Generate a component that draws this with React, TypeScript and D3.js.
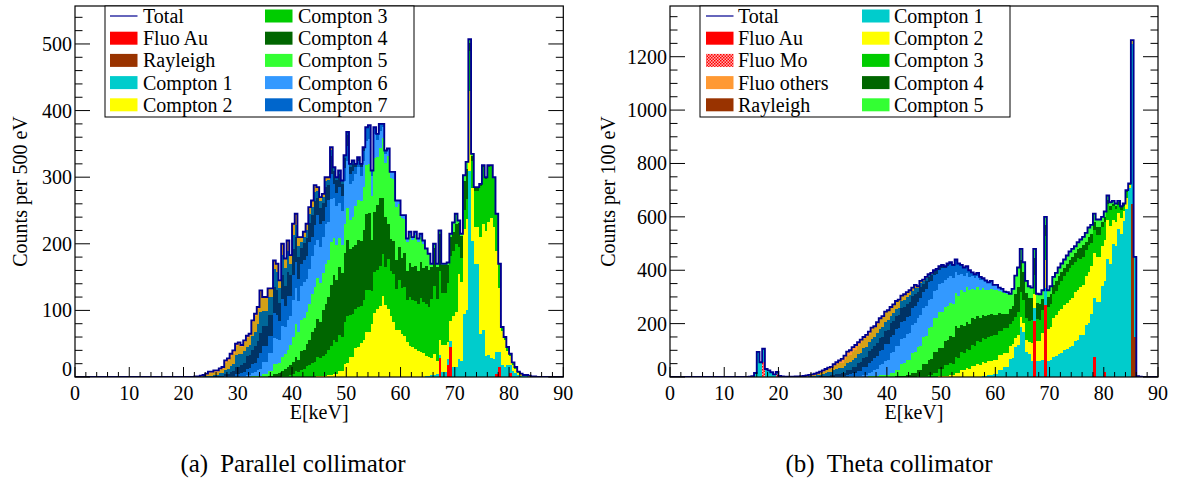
import React from "react";
import * as d3 from "d3";

type Seg = { from: number; counts: number[] };
type Line = [number, number][];

const BIN = 0.5;
const FONT = "Liberation Serif, Times New Roman, serif";

// ---------------- (a) Parallel collimator ----------------
const parallelTotalFrom = 22;
const parallelTotal = [
  1, 1, 2, 3, 5, 8, 8, 10, 10, 13,
  15, 25, 28, 35, 40, 50, 52, 48, 55, 62,
  65, 85, 95, 105, 130, 120, 120, 133, 133, 175,
  170, 145, 200, 178, 205, 183, 230, 245, 210, 210,
  218, 230, 255, 265, 288, 285, 270, 275, 300, 300,
  345, 315, 300, 310, 295, 333, 368, 320, 325, 320,
  330, 320, 345, 375, 378, 310, 375, 365, 380, 380,
  340, 343, 308, 308, 265, 265, 243, 243, 208, 218,
  210, 218, 208, 215, 205, 193, 185, 170, 200, 170,
  220, 170, 170, 172, 215, 232, 245, 235, 215, 303,
  323, 507, 335, 285, 285, 290, 318, 300, 318, 318,
  300, 245, 170, 75, 60, 45, 35, 22, 15, 8,
  5, 3, 3, 2, 1, 1,
];
const parallelFluoAu: Line = [[67, 28], [68.5, 18], [69, 45], [77.5, 4], [78, 15], [80, 6]];
const parallelRayleigh: Line = [];
const parallelCompton1: Seg[] = [{ from: 65, counts: [2, 3, 5, 8, 10, 15, 30, 100, 310, 170, 70, 32, 25, 18, 15, 10, 5, 2, 1] }];
const parallelCompton2: Seg[] = [{ from: 45, counts: [1, 2, 3, 5, 10, 20, 30, 45, 55, 65, 95, 105, 115, 95, 75, 65, 55, 45, 40, 35, 28, 27, 20, 45, 30, 80, 145, 135, 120, 55, 160, 195, 185, 80, 40, 12, 5, 2, 1] }];
const parallelCompton3: Seg[] = [{ from: 38, counts: [1, 2, 4, 8, 12, 18, 22, 28, 33, 40, 50, 55, 65, 65, 60, 60, 60, 60, 60, 60, 70, 65, 70, 65, 70, 70, 75, 75, 90, 95, 85, 100, 100, 45, 30, 60, 55, 85, 80, 70, 30, 5, 3, 2, 1, 1] }];
const parallelCompton4: Seg[] = [{ from: 36, counts: [2, 4, 8, 12, 16, 20, 30, 38, 50, 55, 75, 85, 95, 105, 105, 100, 100, 105, 110, 90, 100, 80, 50, 45, 45, 45, 50, 50, 50, 55, 50, 50, 45, 30, 30, 40, 45, 12, 5, 3, 3] }];
const parallelCompton5: Seg[] = [{ from: 33, counts: [1, 2, 5, 8, 14, 20, 25, 35, 45, 50, 55, 60, 60, 60, 60, 55, 45, 45, 45, 60, 65, 70, 80, 75, 85, 95, 85, 60, 45, 40, 45, 35, 25, 5, 5, 2, 5, 15, 5, 10, 5] }];
const parallelCompton6: Seg[] = [{ from: 31, counts: [1, 3, 6, 10, 18, 30, 35, 45, 45, 50, 50, 55, 55, 60, 55, 60, 60, 60, 55, 65, 55, 50, 40, 35, 35, 25, 15, 10, 10, 5, 5, 5, 5, 5] }];
const parallelCompton7: Seg[] = [{ from: 28, counts: [1, 2, 4, 6, 10, 14, 22, 26, 30, 35, 40, 35, 35, 35, 35, 40, 30, 35, 25, 35, 20, 25, 20, 15, 10, 15, 20, 10, 10, 5] }];
const parallelCompton8: Seg[] = [{ from: 26, counts: [1, 2, 4, 7, 11, 14, 20, 25, 30, 30, 35, 35, 35, 35, 35, 35, 25, 30, 35, 25, 30, 25, 20, 20, 15, 10, 5, 5] }];
const parallelCompton9: Seg[] = [{ from: 24, counts: [2, 2, 3, 5, 8, 10, 18, 18, 15, 22, 30, 25, 30, 25, 30, 30, 20, 17, 10, 14, 13, 10, 10, 8, 5, 5, 5, 5] }];
const parallelCompton10: Seg[] = [{ from: 24, counts: [3, 4, 6, 7, 13, 16, 14, 13, 14, 24, 28, 19, 15, 12, 16, 16, 15, 15, 8, 10, 10, 6, 5, 4] }];
const parallelCompton11: Seg[] = [{ from: 24, counts: [2, 3, 3, 3, 4, 5, 3, 3, 3, 3, 3, 2] }];

// ---------------- (b) Theta collimator ----------------
const thetaTotalFrom = 14;
const thetaTotal = [
  0, 1, 3, 15, 94, 55, 106, 30, 25, 18,
  10, 19, 4, 2, 1, 1, 1, 1, 2, 2,
  3, 4, 6, 8, 10, 12, 16, 20, 25, 30,
  35, 38, 48, 55, 62, 68, 80, 95, 100, 112,
  120, 130, 140, 150, 158, 170, 185, 190, 205, 220,
  228, 245, 250, 262, 272, 285, 290, 305, 310, 318,
  325, 335, 345, 340, 360, 365, 375, 385, 390, 400,
  405, 415, 420, 415, 425, 430, 420, 440, 425, 420,
  410, 415, 400, 392, 385, 390, 375, 370, 362, 355,
  360, 345, 345, 335, 330, 320, 318, 312, 330, 380,
  410, 480, 430, 360, 340, 335, 480, 312, 310, 325,
  600, 325, 340, 375, 390, 410, 425, 440, 455, 470,
  480, 490, 505, 515, 525, 540, 560, 570, 612, 590,
  590, 600, 620, 680, 655, 660, 650, 660, 640, 650,
  700, 725, 1262, 450, 3, 1,
];
const thetaFluoAu: Line = [[67, 210], [69, 270], [78, 75], [80, 20]];
const thetaFluoMo: Line = [[17, 55], [19.5, 10]];
const thetaRayleigh: Line = [[85, 650], [85.5, 150]];
const thetaCompton1: Seg[] = [
  { from: 15, counts: [10, 70, 40, 20, 10, 3, 1] },
  { from: 58, counts: [2, 6, 12, 25, 37, 70, 130, 175, 100, 60, 60, 60, 62, 75, 87, 100, 112, 130, 150, 180, 212, 262, 362, 425, 500, 550, 620, 600, 3] },
];
const thetaCompton2: Seg[] = [{ from: 50, counts: [2, 4, 6, 15, 25, 31, 40, 44, 50, 52, 50, 55, 50, 55, 40, 37, 50, 65, 75, 100, 125, 150, 160, 165, 175, 175, 175, 170, 163, 160, 163, 140, 90, 60, 40, 10] }];
const thetaCompton3: Seg[] = [{ from: 45, counts: [1, 2, 4, 6, 15, 25, 40, 44, 55, 65, 69, 78, 81, 88, 88, 88, 88, 88, 85, 95, 88, 90, 85, 80, 85, 88, 90, 100, 110, 120, 110, 100, 90, 80, 75, 75, 60, 50, 30, 20, 5] }];
const thetaCompton4: Seg[] = [{ from: 42, counts: [2, 4, 6, 15, 25, 45, 56, 75, 75, 90, 100, 110, 100, 100, 100, 87, 82, 78, 75, 65, 50, 60, 100, 110, 100, 80, 60, 40, 37, 35, 35, 30, 30, 30, 40, 30, 30, 30, 20, 15, 10, 10, 5] }];
const thetaCompton5: Seg[] = [{ from: 36, counts: [1, 3, 5, 8, 6, 15, 25, 45, 56, 75, 87, 100, 113, 120, 125, 125, 125, 120, 125, 125, 110, 100, 95, 90, 87, 80, 75, 60, 80, 40, 50, 40, 35, 30, 28, 30, 30, 30, 30, 25, 30, 30, 30, 25, 20, 15, 10, 5, 3] }];
const thetaCompton6: Seg[] = [{ from: 33, counts: [2, 3, 5, 6, 15, 25, 40, 56, 75, 87, 90, 100, 105, 113, 110, 100, 100, 100, 100, 100, 75, 60, 50, 45, 38, 30, 25, 20, 12, 5, 3] }];
const thetaCompton7: Seg[] = [{ from: 29, counts: [1, 2, 4, 6, 8, 12, 20, 31, 40, 50, 55, 63, 63, 63, 63, 63, 62, 62, 62, 62, 55, 50, 45, 45, 40, 30, 25, 15, 10, 5, 3] }];
const thetaCompton8: Seg[] = [{ from: 27, counts: [1, 3, 5, 8, 10, 12, 18, 25, 35, 38, 45, 50, 50, 50, 50, 50, 50, 50, 45, 38, 30, 20, 15, 10, 8, 5, 3, 2] }];
const thetaCompton9: Seg[] = [{ from: 25, counts: [1, 3, 5, 10, 14, 20, 22, 25, 30, 32, 35, 37, 37, 37, 37, 37, 30, 25, 25, 25, 20, 15, 10, 6, 3, 2] }];
const thetaCompton10: Seg[] = [{ from: 23, counts: [1, 1, 2, 4, 6, 10, 12, 18, 20, 25, 30, 31, 35, 35, 35, 38, 38, 35, 30, 28, 20, 18, 12, 8, 5, 3] }];
const thetaCompton11: Seg[] = [{ from: 22, counts: [1, 1, 2, 2, 3, 4, 5, 6, 10, 12, 18, 18, 20, 15, 10, 8, 5, 4, 3, 2, 2] }];

// ---------------- colours ----------------
const C = {
  au: "#ff0000",
  ray: "#993300",
  others: "#ff9933",
  c1: "#00cccc",
  c2: "#ffff00",
  c3: "#00cc00",
  c4: "#006600",
  c5: "#33ff33",
  c6: "#3399ff",
  c7: "#0066cc",
  c8: "#003366",
  c9: "#006699",
  c10: "#d4a017",
  c11: "#ff9933",
  total: "#000090",
};

type LayerDef = { fill: string; line?: Line; cont?: Seg[] };

const parallelLayers: LayerDef[] = [
  { fill: C.au, line: parallelFluoAu },
  { fill: C.ray, line: parallelRayleigh },
  { fill: C.c1, cont: parallelCompton1 },
  { fill: C.c2, cont: parallelCompton2 },
  { fill: C.c3, cont: parallelCompton3 },
  { fill: C.c4, cont: parallelCompton4 },
  { fill: C.c5, cont: parallelCompton5 },
  { fill: C.c6, cont: parallelCompton6 },
  { fill: C.c7, cont: parallelCompton7 },
  { fill: C.c8, cont: parallelCompton8 },
  { fill: C.c9, cont: parallelCompton9 },
  { fill: C.c10, cont: parallelCompton10 },
  { fill: C.c11, cont: parallelCompton11 },
];

const thetaLayers: LayerDef[] = [
  { fill: C.au, line: thetaFluoAu },
  { fill: "url(#moPattern)", line: thetaFluoMo },
  { fill: C.ray, line: thetaRayleigh },
  { fill: C.c1, cont: thetaCompton1 },
  { fill: C.c2, cont: thetaCompton2 },
  { fill: C.c3, cont: thetaCompton3 },
  { fill: C.c4, cont: thetaCompton4 },
  { fill: C.c5, cont: thetaCompton5 },
  { fill: C.c6, cont: thetaCompton6 },
  { fill: C.c7, cont: thetaCompton7 },
  { fill: C.c8, cont: thetaCompton8 },
  { fill: C.c9, cont: thetaCompton9 },
  { fill: C.c10, cont: thetaCompton10 },
  { fill: C.c11, cont: thetaCompton11 },
];

type LegendEntry = { label: string; fill: string | null };
const parallelLegend: LegendEntry[] = [
  { label: "Total", fill: null },
  { label: "Fluo Au", fill: C.au },
  { label: "Rayleigh", fill: C.ray },
  { label: "Compton 1", fill: C.c1 },
  { label: "Compton 2", fill: C.c2 },
  { label: "Compton 3", fill: C.c3 },
  { label: "Compton 4", fill: C.c4 },
  { label: "Compton 5", fill: C.c5 },
  { label: "Compton 6", fill: C.c6 },
  { label: "Compton 7", fill: C.c7 },
];
const thetaLegend: LegendEntry[] = [
  { label: "Total", fill: null },
  { label: "Fluo Au", fill: C.au },
  { label: "Fluo Mo", fill: "url(#moPattern)" },
  { label: "Fluo others", fill: C.others },
  { label: "Rayleigh", fill: C.ray },
  { label: "Compton 1", fill: C.c1 },
  { label: "Compton 2", fill: C.c2 },
  { label: "Compton 3", fill: C.c3 },
  { label: "Compton 4", fill: C.c4 },
  { label: "Compton 5", fill: C.c5 },
];

function segValue(segs: Seg[], k: number): number {
  for (const s of segs) {
    const i = k - s.from;
    if (i >= 0 && i < s.counts.length) return s.counts[i];
  }
  return 0;
}
function lineValue(line: Line, e: number): number {
  const f = line.find((l) => Math.abs(l[0] - e) < 1e-6);
  return f ? f[1] : 0;
}

function buildBins(from: number, total: number[], layers: LayerDef[]) {
  return total.map((t, i) => {
    const e = from + i * BIN;
    const vals = layers.map((L) => (L.line ? lineValue(L.line, e) : 0));
    const lineSum = d3.sum(vals);
    const rest = Math.max(0, t - lineSum);
    const key = Math.round(e + BIN / 2);
    const contAt = (k: number) => layers.map((L) => (L.cont ? segValue(L.cont, k) : 0));
    let cv = contAt(key);
    let cs = d3.sum(cv);
    for (let d = 1; cs === 0 && rest > 0 && d < 8; d++) {
      for (const k of [key - d, key + d]) {
        const c2 = contAt(k);
        if (d3.sum(c2) > 0) { cv = c2; cs = d3.sum(c2); break; }
      }
    }
    const out = vals.map((v, j) => (layers[j].cont ? (cs > 0 ? (rest * cv[j]) / cs : 0) : v));
    const cum = [0];
    out.forEach((v) => cum.push(cum[cum.length - 1] + v));
    return { e, t, cum };
  });
}

type ChartProps = {
  id: string;
  x0: number; x1: number; yTop: number; yBot: number;
  yMax: number; yMajor: number; yMinor: number;
  totalFrom: number; total: number[]; layers: LayerDef[];
  legend: LegendEntry[];
  legendBox: { x: number; y: number; w: number; h: number; sw: [number, number]; tx: [number, number] };
  yTitle: string; yTitleX: number;
  capTag: string; capText: string; captionX: number;
};

const txt: React.CSSProperties = { fontFamily: FONT };

function Chart(p: ChartProps) {
  const xs = d3.scaleLinear().domain([0, 90]).range([p.x0, p.x1]);
  const ys = d3.scaleLinear().domain([0, p.yMax]).range([p.yBot, p.yTop]);
  const bins = buildBins(p.totalFrom, p.total, p.layers);
  const lastE = bins[bins.length - 1].e + BIN;
  const area = d3
    .area<{ e: number; a: number; b: number }>()
    .x((d) => xs(d.e))
    .y0((d) => ys(d.a))
    .y1((d) => ys(d.b))
    .curve(d3.curveStepAfter);
  const layerPaths = p.layers.map((L, k) => {
    const pts = bins.map((b) => ({ e: b.e, a: b.cum[k], b: b.cum[k + 1] }));
    if (!pts.some((q) => q.b - q.a > 0.01)) return null;
    const last = pts[pts.length - 1];
    pts.push({ e: lastE, a: last.a, b: last.b });
    return <path key={k} d={area(pts) || ""} fill={L.fill} stroke="none" shapeRendering="crispEdges" />;
  });
  const linePts: { e: number; t: number }[] = [{ e: 0, t: 0 }];
  bins.forEach((b) => linePts.push({ e: b.e, t: b.t }));
  linePts.push({ e: lastE, t: 0 });
  linePts.push({ e: 90, t: 0 });
  const line = d3
    .line<{ e: number; t: number }>()
    .x((d) => xs(d.e))
    .y((d) => ys(d.t))
    .curve(d3.curveStepAfter);

  const xMajor = d3.range(0, 91, 10);
  const xMinor = d3.range(0, 91, 2);
  const yMajor = d3.range(0, p.yMax + 0.1, p.yMajor);
  const yMinor = d3.range(0, p.yMax + 0.1, p.yMinor);
  const rows = [16, 38.2, 60.4, 82.6, 104.8];
  const lb = p.legendBox;

  return (
    <g>
      <clipPath id={`clip-${p.id}`}>
        <rect x={p.x0} y={p.yTop} width={p.x1 - p.x0} height={p.yBot - p.yTop} />
      </clipPath>
      <g clipPath={`url(#clip-${p.id})`}>
        {layerPaths}
        <path d={line(linePts) || ""} fill="none" stroke={C.total} strokeWidth={1.9} />
      </g>
      <rect x={p.x0} y={p.yTop} width={p.x1 - p.x0} height={p.yBot - p.yTop} fill="none" stroke="#000" strokeWidth={1.2} />
      {xMinor.map((v) => (
        <line key={`xm${v}`} x1={xs(v)} x2={xs(v)} y1={p.yBot} y2={p.yBot - (v % 10 === 0 ? 10 : 5)} stroke="#000" strokeWidth={1} />
      ))}
      {xMajor.map((v) => (
        <text key={`xl${v}`} x={xs(v)} y={p.yBot + 23} textAnchor="middle" fontSize={20} style={txt}>{v}</text>
      ))}
      {yMinor.map((v) => {
        const major = Math.abs(v / p.yMajor - Math.round(v / p.yMajor)) < 1e-6;
        const len = major ? 15 : 7.5;
        return (
          <g key={`ym${v}`}>
            <line x1={p.x0} x2={p.x0 + len} y1={ys(v)} y2={ys(v)} stroke="#000" strokeWidth={1} />
            <line x1={p.x1} x2={p.x1 - len} y1={ys(v)} y2={ys(v)} stroke="#000" strokeWidth={1} />
          </g>
        );
      })}
      {yMajor.map((v) => (
        <text key={`yl${v}`} x={p.x0 - 3} y={v === 0 ? p.yBot - 1 : ys(v) + 7} textAnchor="end" fontSize={20} style={txt}>{v}</text>
      ))}
      <text x={(p.x0 + p.x1) / 2} y={p.yBot + 42} textAnchor="middle" fontSize={20} style={txt}>E[keV]</text>
      <text transform={`translate(${p.yTitleX},${(p.yTop + p.yBot) / 2}) rotate(-90)`} textAnchor="middle" fontSize={20} style={txt}>{p.yTitle}</text>
      <rect x={lb.x} y={lb.y} width={lb.w} height={lb.h} fill="#fff" stroke="#000" strokeWidth={1} />
      {p.legend.map((en, i) => {
        const col = i < 5 ? 0 : 1;
        const cy = rows[i % 5];
        const sx = lb.sw[col];
        return (
          <g key={en.label}>
            {en.fill === null ? (
              <line x1={sx} x2={sx + 27.5} y1={cy} y2={cy} stroke={C.total} strokeWidth={1.2} />
            ) : (
              <rect x={sx} y={cy - 6.5} width={27.5} height={13} fill={en.fill} />
            )}
            <text x={lb.tx[col]} y={cy + 7} fontSize={20} style={txt}>{en.label}</text>
          </g>
        );
      })}
      <text x={p.captionX} y={472} textAnchor="middle" fontSize={25} style={txt}>
        <tspan>{p.capTag}</tspan>
        <tspan dx={12}>{p.capText}</tspan>
      </text>
    </g>
  );
}

export default function App() {
  return (
    <svg width={1183} height={480} style={{ position: "absolute", left: 0, top: 0, background: "#fff", fontFamily: FONT }}>
      <defs>
        <pattern id="moPattern" width="3" height="3" patternUnits="userSpaceOnUse">
          <rect width="3" height="3" fill="#ffb0b0" />
          <rect width="1.5" height="1.5" fill="#ff0000" />
          <rect x="1.5" y="1.5" width="1.5" height="1.5" fill="#ff0000" />
        </pattern>
      </defs>
      <rect width={1183} height={480} fill="#fff" />
      <Chart
        id="a" x0={75} x1={563.3} yTop={6} yBot={377} yMax={557} yMajor={100} yMinor={20}
        totalFrom={parallelTotalFrom} total={parallelTotal} layers={parallelLayers}
        legend={parallelLegend}
        legendBox={{ x: 105, y: 6, w: 309, h: 111, sw: [110, 265], tx: [143, 298] }}
        yTitle="Counts per 500 eV" yTitleX={27}
        capTag="(a)" capText="Parallel collimator" captionX={293}
      />
      <Chart
        id="b" x0={670} x1={1158} yTop={6} yBot={377} yMax={1390} yMajor={200} yMinor={50}
        totalFrom={thetaTotalFrom} total={thetaTotal} layers={thetaLayers}
        legend={thetaLegend}
        legendBox={{ x: 700, y: 6, w: 310, h: 111, sw: [706, 862], tx: [738, 894] }}
        yTitle="Counts per 100 eV" yTitleX={615}
        capTag="(b)" capText="Theta collimator" captionX={889}
      />
    </svg>
  );
}
